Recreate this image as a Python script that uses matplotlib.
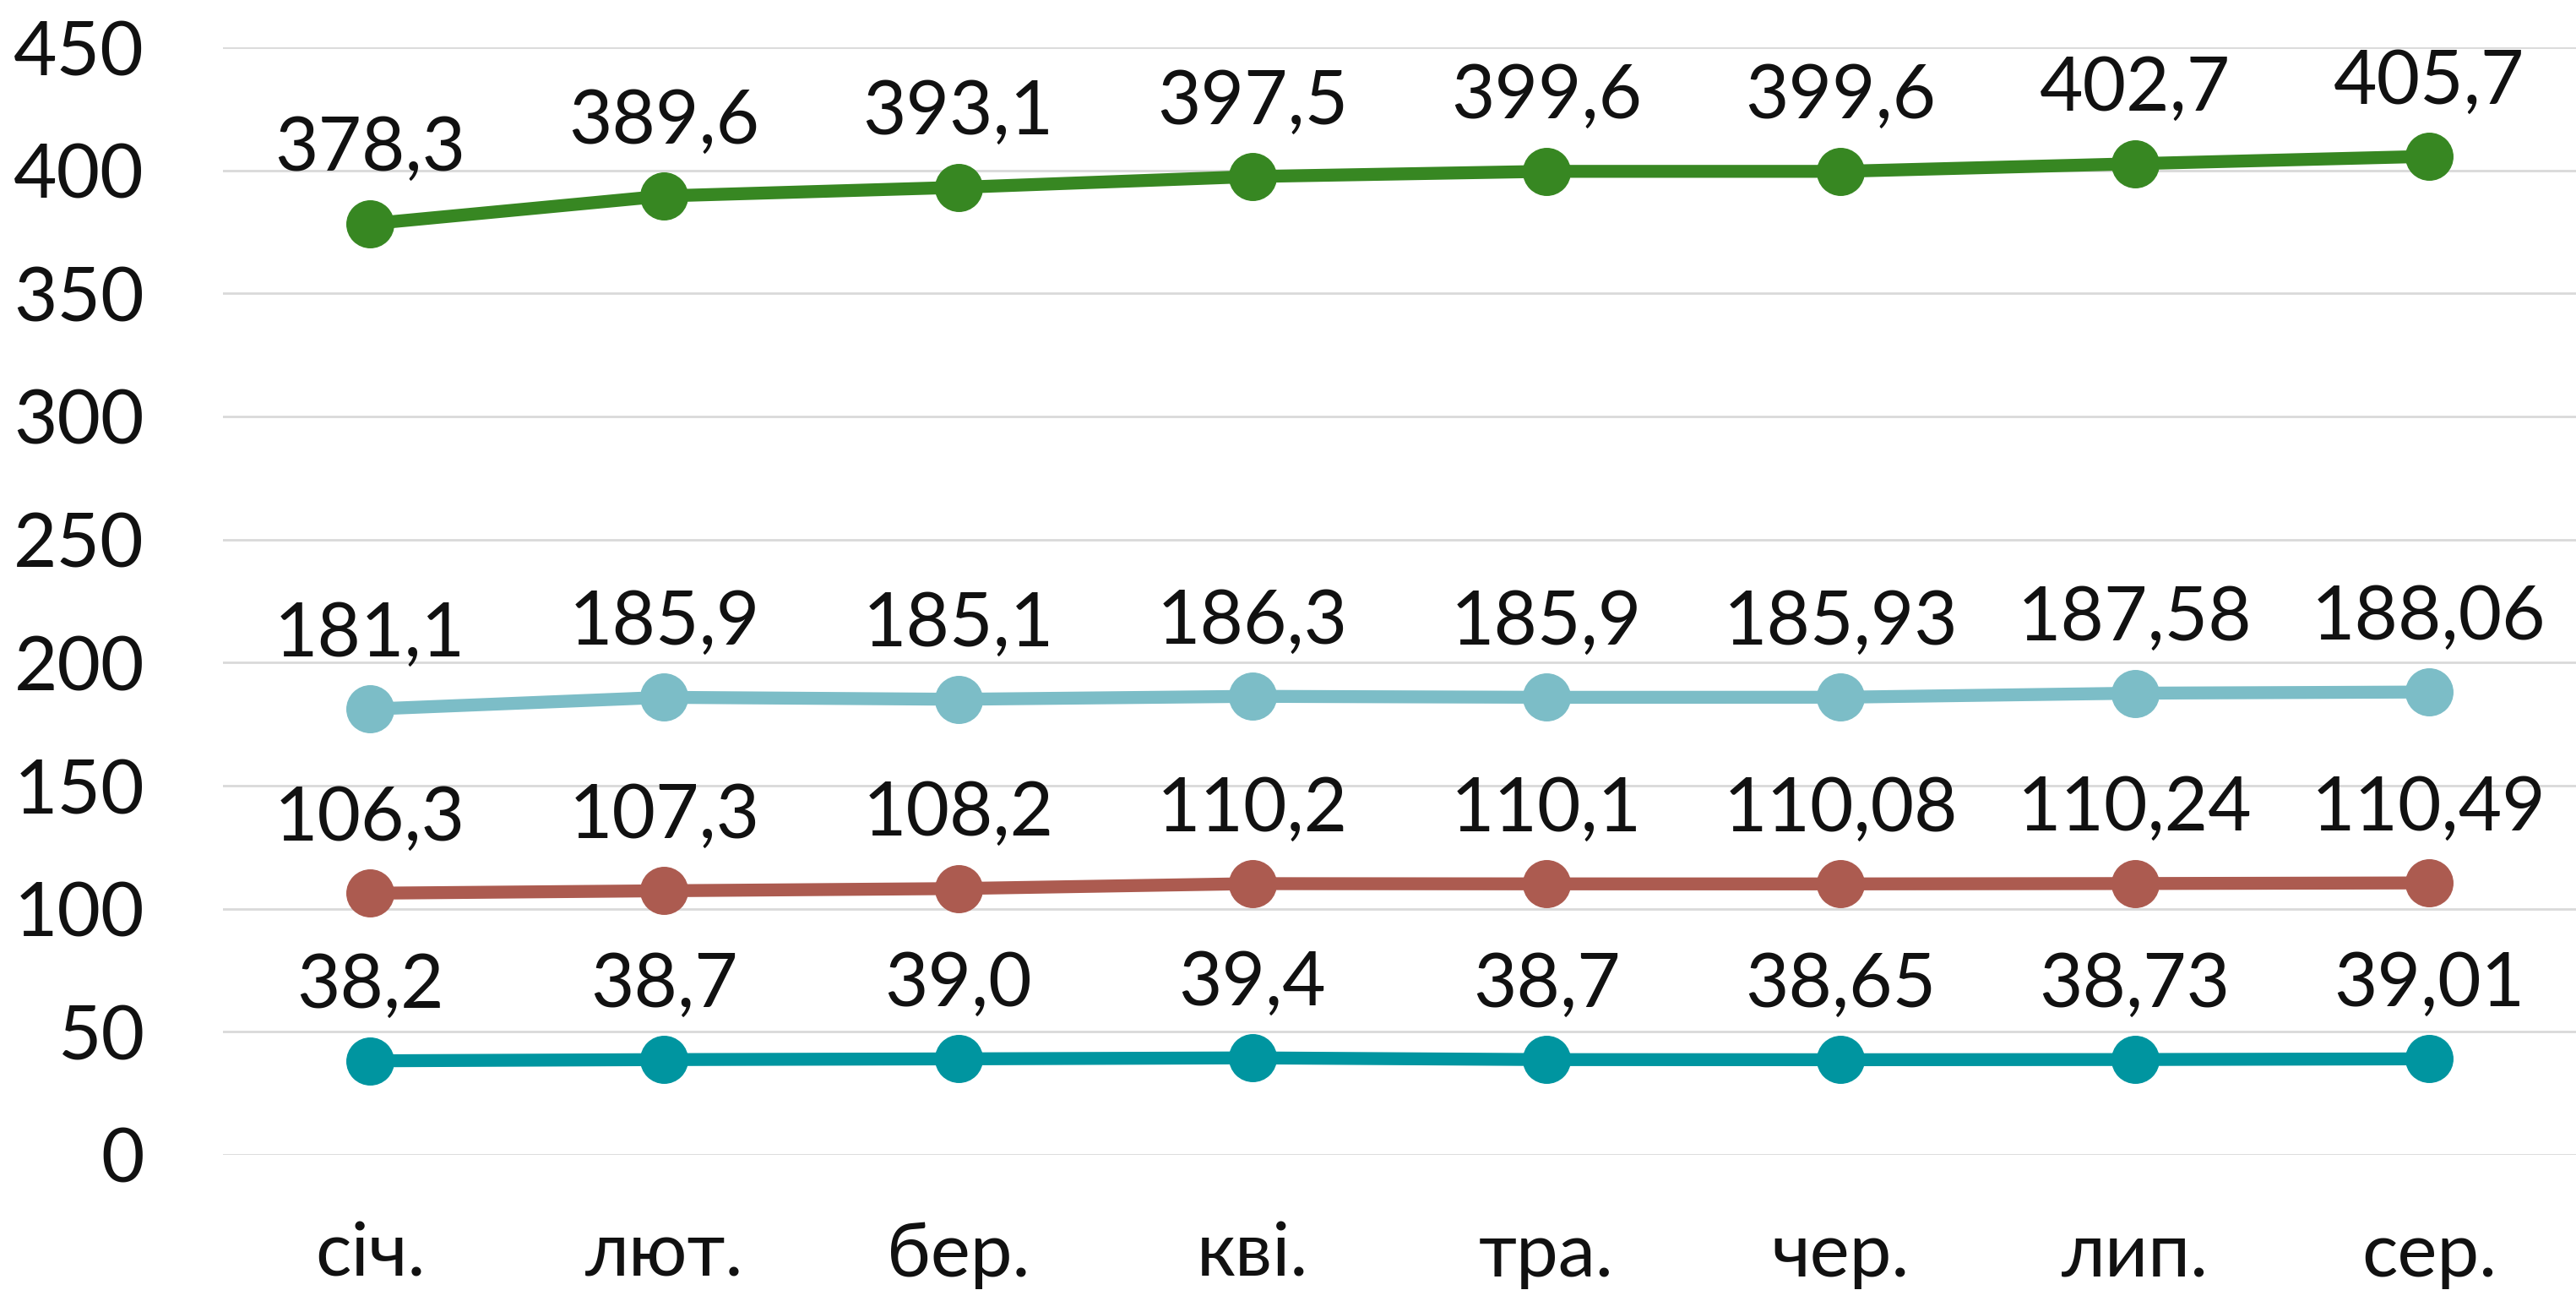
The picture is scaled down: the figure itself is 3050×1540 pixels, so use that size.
import matplotlib
matplotlib.use("Agg")
import matplotlib.pyplot as plt

months = ["січ.", "лют.", "бер.", "кві.", "тра.", "чер.", "лип.", "сер."]
s_green = [378.3, 389.6, 393.1, 397.5, 399.6, 399.6, 402.7, 405.7]
s_light = [181.1, 185.9, 185.1, 186.3, 185.9, 185.93, 187.58, 188.06]
s_red = [106.3, 107.3, 108.2, 110.2, 110.1, 110.08, 110.24, 110.49]
s_teal = [38.2, 38.7, 39.0, 39.4, 38.7, 38.65, 38.73, 39.01]
dec_green = [1, 1, 1, 1, 1, 1, 1, 1]
dec_other = [1, 1, 1, 1, 1, 2, 2, 2]
y_ticks = [0, 50, 100, 150, 200, 250, 300, 350, 400, 450]

series = [
    (s_green, dec_green, "#378722"),
    (s_light, dec_other, "#7CBDC7"),
    (s_red, dec_other, "#AC5B50"),
    (s_teal, dec_other, "#0095A0"),
]

plt.rcParams["font.family"] = ["Lato", "DejaVu Sans"]

fig = plt.figure(figsize=(30.5, 15.4), dpi=100)
ax = fig.add_axes([264 / 3050, 1 - 1367 / 1540, 1 - 264 / 3050, (1367 - 56) / 1540])

x = list(range(len(months)))
for vals, decs, col in series:
    ax.plot(x, vals, color=col, lw=11, marker="o", markersize=40, zorder=3,
            solid_capstyle="round")
    for xi, v, d in zip(x, vals, decs):
        lab = f"{v:.{d}f}".replace(".", ",")
        ax.annotate(lab, (xi, v), xytext=(0, 45), textcoords="offset points",
                    ha="center", va="baseline", fontsize=64, color="#111111",
                    zorder=4)

ax.set_xlim(-0.5, len(months) - 0.5)
ax.set_ylim(0, 450)
ax.set_yticks(y_ticks)
ax.set_yticklabels([str(t) for t in y_ticks])
ax.set_xticks(x)
ax.set_xticklabels(months)
ax.tick_params(axis="y", length=0, pad=67, labelsize=64, labelcolor="#111111")
ax.tick_params(axis="x", length=0, pad=56, labelsize=64, labelcolor="#111111")
ax.grid(axis="y", color="#D9D9D9", lw=2)
ax.set_axisbelow(True)
for sp in ax.spines.values():
    sp.set_visible(False)

fig.savefig("out.png", dpi=100)
